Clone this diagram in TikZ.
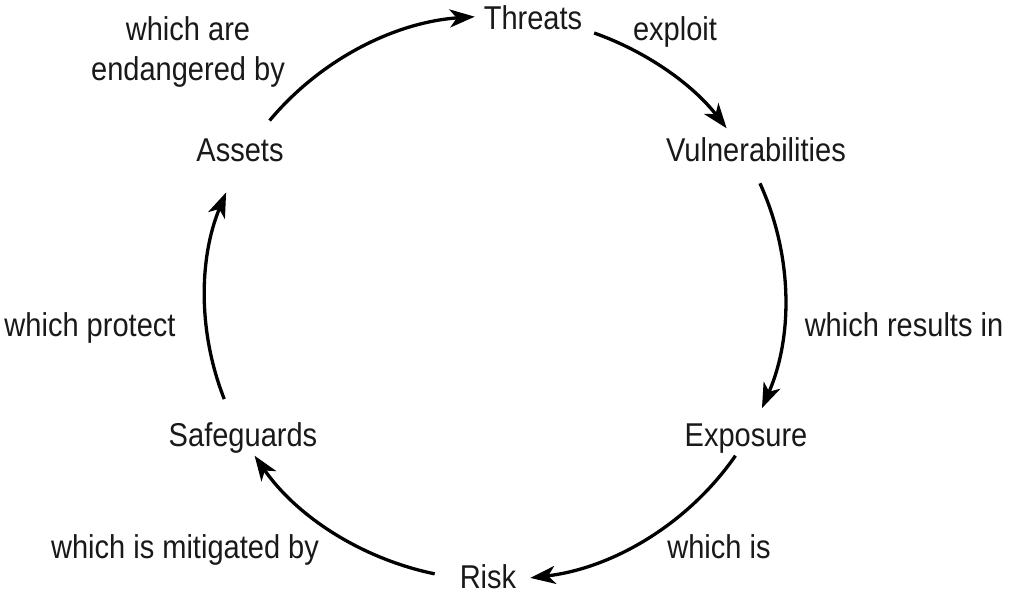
\documentclass[tikz,border=0pt]{standalone}
\usepackage{fontspec}
\setmainfont{Liberation Sans}[FakeStretch=0.88]
\usetikzlibrary{arrows.meta}
\begin{document}
\begin{tikzpicture}[x=1pt,y=1pt,
  lbl/.style={anchor=base,inner sep=0pt,font=\fontsize{33}{40}\selectfont,text=black!90},
  conn/.style={line width=3.3pt,-{Stealth[length=25pt,width=18pt,inset=7pt]}}]
\useasboundingbox (0,0) rectangle (1011,-598);
\coordinate (c) at (495,-298);
\node[lbl] (threats) at (533,-29) {Threats};
\node[lbl] (vuln) at (756,-161) {Vulnerabilities};
\node[lbl] (expo) at (746,-446) {Exposure};
\node[lbl] (risk) at (488,-588) {Risk};
\node[lbl] (safe) at (243,-446) {Safeguards};
\node[lbl] (assets) at (240,-161) {Assets};
\node[lbl,align=center] (l1) at (188,-80) {which are\\endangered by};
\node[lbl] (l2) at (675,-40) {exploit};
\node[lbl] (l3) at (904,-336) {which results in};
\node[lbl] (l4) at (719,-558) {which is};
\node[lbl] (l5) at (185,-558) {which is mitigated by};
\node[lbl] (l6) at (90,-336) {which protect};
\def\arcfrom#1#2{\draw[conn] (c) ++(#1:290 and 282) arc[start angle=#1,end angle=#2,x radius=290,y radius=282];}
\arcfrom{141}{94}
\arcfrom{70}{37}
\arcfrom{24}{-23}
\arcfrom{-34}{-83}
\arcfrom{-102}{-146}
\arcfrom{-159}{-202}
\end{tikzpicture}
\end{document}
